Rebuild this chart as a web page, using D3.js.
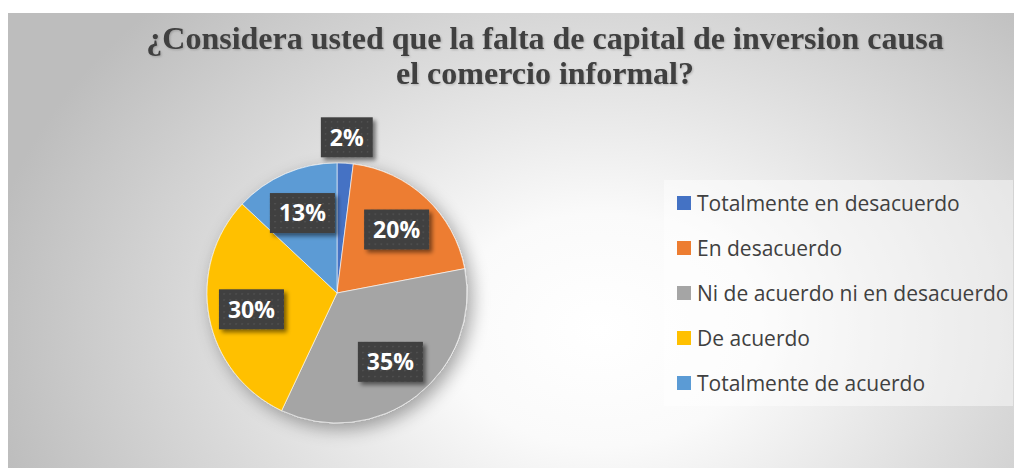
<!DOCTYPE html>
<html>
<head>
<meta charset="utf-8">
<script src="https://cdn.jsdelivr.net/npm/d3@7"></script>
<style>
  body { margin: 0; background: #fff; }
  svg { display: block; }
</style>
</head>
<body>
<div class="svg-container"></div>
<script>
//chart data
const titleLines = ['¿Considera usted que la falta de capital de inversion causa', 'el comercio informal?'];
const categories = ['Totalmente en desacuerdo', 'En desacuerdo', 'Ni de acuerdo ni en desacuerdo', 'De acuerdo', 'Totalmente de acuerdo'];
const values = [2, 20, 35, 30, 13];
const colors = ['#4472C4', '#ED7D31', '#A5A5A5', '#FFC000', '#5B9BD5'];

//dimensions
const width = 1014;
const height = 468;
const cx = 337, cy = 293, radius = 130;

const svg = d3.select('.svg-container')
    .append('svg')
    .attr('width', width)
    .attr('height', height);

const defs = svg.append('defs');

//background gradient
const bg = defs.append('radialGradient')
    .attr('id', 'bg')
    .attr('gradientUnits', 'userSpaceOnUse')
    .attr('cx', 600).attr('cy', 330).attr('r', 620)
    .attr('gradientTransform', 'translate(600,330) scale(1,0.75) translate(-600,-330)');
bg.append('stop').attr('offset', '0%').attr('stop-color', '#ffffff');
bg.append('stop').attr('offset', '25%').attr('stop-color', '#fafafa');
bg.append('stop').attr('offset', '100%').attr('stop-color', '#bdbdbd');

//dotted pattern for label boxes
const pat = defs.append('pattern')
    .attr('id', 'dots')
    .attr('width', 6).attr('height', 6)
    .attr('patternUnits', 'userSpaceOnUse');
pat.append('rect').attr('width', 6).attr('height', 6).attr('fill', '#3f3f3f');
pat.append('rect').attr('x', 2).attr('y', 2).attr('width', 1.3).attr('height', 1.3).attr('fill', '#5c5c5c');

//shadows
const sh = defs.append('filter').attr('id', 'pieShadow')
    .attr('x', '-30%').attr('y', '-30%').attr('width', '160%').attr('height', '160%');
sh.append('feGaussianBlur').attr('in', 'SourceAlpha').attr('stdDeviation', 9).attr('result', 'b');
sh.append('feOffset').attr('in', 'b').attr('dx', 5).attr('dy', 6).attr('result', 'o');
sh.append('feComponentTransfer').attr('in', 'o').attr('result', 'o2')
    .append('feFuncA').attr('type', 'linear').attr('slope', 0.35);
const shm = sh.append('feMerge');
shm.append('feMergeNode').attr('in', 'o2');
shm.append('feMergeNode').attr('in', 'SourceGraphic');

const bs = defs.append('filter').attr('id', 'boxShadow')
    .attr('x', '-30%').attr('y', '-30%').attr('width', '160%').attr('height', '160%');
bs.append('feGaussianBlur').attr('in', 'SourceAlpha').attr('stdDeviation', 2).attr('result', 'b');
bs.append('feOffset').attr('in', 'b').attr('dx', 3).attr('dy', 3).attr('result', 'o');
bs.append('feComponentTransfer').attr('in', 'o').attr('result', 'o2')
    .append('feFuncA').attr('type', 'linear').attr('slope', 0.5);
const bsm = bs.append('feMerge');
bsm.append('feMergeNode').attr('in', 'o2');
bsm.append('feMergeNode').attr('in', 'SourceGraphic');

const ts = defs.append('filter').attr('id', 'textShadow')
    .attr('x', '-5%').attr('y', '-30%').attr('width', '110%').attr('height', '160%');
ts.append('feGaussianBlur').attr('in', 'SourceAlpha').attr('stdDeviation', 0.8).attr('result', 'b');
ts.append('feOffset').attr('in', 'b').attr('dx', 1).attr('dy', 1).attr('result', 'o');
ts.append('feComponentTransfer').attr('in', 'o').attr('result', 'o2')
    .append('feFuncA').attr('type', 'linear').attr('slope', 0.2);
const tsm = ts.append('feMerge');
tsm.append('feMergeNode').attr('in', 'o2');
tsm.append('feMergeNode').attr('in', 'SourceGraphic');

//chart area
svg.append('rect')
    .attr('x', 8).attr('y', 13)
    .attr('width', width).attr('height', height)
    .attr('fill', 'url(#bg)');

//title
svg.append('g')
    .attr('filter', 'url(#textShadow)')
    .selectAll('text')
    .data(titleLines)
    .join('text')
    .attr('x', 545)
    .attr('y', (d, i) => 49 + i * 35)
    .attr('text-anchor', 'middle')
    .attr('font-family', '"Liberation Serif", "Times New Roman", serif')
    .attr('font-weight', 'bold')
    .attr('font-size', 32)
    .attr('fill', '#404040')
    .text(d => d);

//pie
const pie = d3.pie().sort(null).value(d => d);
const arcs = pie(values);
const arc = d3.arc().innerRadius(0).outerRadius(radius);

const pieG = svg.append('g')
    .attr('transform', `translate(${cx},${cy})`);

pieG.append('g')
    .attr('filter', 'url(#pieShadow)')
    .selectAll('path')
    .data(arcs)
    .join('path')
    .attr('d', arc)
    .attr('fill', (d, i) => colors[i])
    .attr('stroke', '#ffffff')
    .attr('stroke-width', 0.6);

//data labels: inside for large slices, outside for small ones
const inArc = d3.arc().innerRadius(radius * 0.67).outerRadius(radius * 0.67);
const outArc = d3.arc().innerRadius(radius + 26).outerRadius(radius + 26);

const labels = pieG.selectAll('.lbl')
    .data(arcs)
    .join('g')
    .attr('class', 'lbl')
    .attr('transform', d => {
        const c = (d.value < 5 ? outArc : inArc).centroid(d);
        return `translate(${c[0]},${c[1]})`;
    });

labels.append('text')
    .attr('text-anchor', 'middle')
    .attr('dy', '0.36em')
    .attr('font-family', '"Open Sans", sans-serif')
    .attr('font-weight', 'bold')
    .attr('font-size', 23)
    .attr('fill', '#ffffff')
    .text(d => `${d.value}%`);

labels.each(function() {
    const g = d3.select(this);
    const w = g.select('text').node().getComputedTextLength();
    g.insert('rect', 'text')
        .attr('x', -w / 2 - 9)
        .attr('y', -20)
        .attr('width', w + 18)
        .attr('height', 40)
        .attr('fill', 'url(#dots)')
        .attr('filter', 'url(#boxShadow)');
});

//legend
const legX = 664, legY = 180;
svg.append('rect')
    .attr('x', legX).attr('y', legY)
    .attr('width', 349).attr('height', 226)
    .attr('fill', '#ffffff')
    .attr('fill-opacity', 0.45);

const legend = svg.selectAll('.legend')
    .data(categories)
    .join('g')
    .attr('class', 'legend')
    .attr('transform', (d, i) => `translate(${legX + 13},${203 + i * 45})`);

legend.append('rect')
    .attr('x', 0).attr('y', -7)
    .attr('width', 14).attr('height', 14)
    .attr('fill', (d, i) => colors[i]);

legend.append('text')
    .attr('x', 20)
    .attr('dy', '0.36em')
    .attr('font-family', '"Open Sans", sans-serif')
    .attr('font-size', 21)
    .attr('fill', '#404040')
    .text(d => d);
</script>
</body>
</html>
